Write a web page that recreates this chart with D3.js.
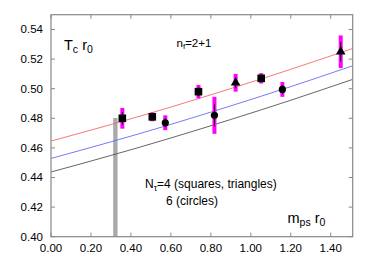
<!DOCTYPE html>
<html>
<head>
<meta charset="utf-8">
<script src="https://cdn.jsdelivr.net/npm/d3@7"></script>
<style>
  body { margin: 0; background: #fff; }
  svg { font-family: "Liberation Sans", Arial, sans-serif; }
</style>
</head>
<body>
<div class="container"></div>
<script>
// data
let squares = [
  {x: 0.357, y: 0.480, e: 0.007},
  {x: 0.507, y: 0.481, e: 0.003},
  {x: 0.738, y: 0.498, e: 0.0045},
  {x: 1.052, y: 0.507, e: 0.0035}
]
let triangles = [
  {x: 0.924, y: 0.504, e: 0.006},
  {x: 1.450, y: 0.525, e: 0.011}
]
let circles = [
  {x: 0.572, y: 0.477, e: 0.005},
  {x: 0.818, y: 0.482, e: 0.0125},
  {x: 1.158, y: 0.4995, e: 0.005}
]
let curveX = [0, 0.3, 0.6, 0.9, 1.2, 1.51]
let redCurve = [0.4646, 0.4758, 0.4876, 0.5001, 0.5131, 0.5272]
let blueCurve = [0.4529, 0.4641, 0.4759, 0.4884, 0.5014, 0.5155]
let blackCurve = [0.4437, 0.4549, 0.4667, 0.4792, 0.4922, 0.5063]
let band = {x0: 0.313, x1: 0.331, y: 0.480}
let xTicks = [0, 0.2, 0.4, 0.6, 0.8, 1.0, 1.2, 1.4]
let yTicks = [0.40, 0.42, 0.44, 0.46, 0.48, 0.50, 0.52, 0.54]

let margin = {left: 51, top: 14.7, right: 21.3, bottom: 25.3}
let W = 374, H = 262
let w = W - margin.left - margin.right
let h = H - margin.top - margin.bottom

let svg = d3.select('.container')
    .append('svg')
    .attr('width', W)
    .attr('height', H)

let g = svg.append('g')
    .attr('transform', `translate(${margin.left},${margin.top})`)

let x = d3.scaleLinear().domain([0, 1.51]).range([0, w])
let y = d3.scaleLinear().domain([0.40, 0.55]).range([h, 0])

// grey band
g.append('rect')
    .attr('x', x(band.x0))
    .attr('y', y(band.y))
    .attr('width', x(band.x1) - x(band.x0))
    .attr('height', y(0.40) - y(band.y))
    .attr('fill', '#aaa')
    .attr('stroke', '#999')
    .attr('stroke-width', 0.5)

// fit curves
let line = d3.line()
    .x((d, i) => x(curveX[i]))
    .y(d => y(d))
    .curve(d3.curveMonotoneX)

let curves = [[blackCurve, '#555'], [blueCurve, '#6a6af5'], [redCurve, '#f46a6a']]
curves.forEach(c => {
  g.append('path')
      .attr('d', line(c[0]))
      .attr('fill', 'none')
      .attr('stroke', c[1])
      .attr('stroke-width', 0.9)
})

// error bars
let all = squares.concat(triangles, circles)
g.selectAll('.err')
    .data(all)
  .enter().append('line')
    .attr('x1', d => x(d.x))
    .attr('x2', d => x(d.x))
    .attr('y1', d => y(d.y - d.e))
    .attr('y2', d => y(d.y + d.e))
    .attr('stroke', '#ff00ff')
    .attr('stroke-width', 4)

// black centre lines in bars
g.selectAll('.errc')
    .data(all)
  .enter().append('line')
    .attr('x1', d => x(d.x))
    .attr('x2', d => x(d.x))
    .attr('y1', d => y(d.y - d.e * 0.6))
    .attr('y2', d => y(d.y + d.e * 0.6))
    .attr('stroke', '#000')
    .attr('stroke-width', 1)

g.selectAll('.sq')
    .data(squares)
  .enter().append('rect')
    .attr('x', d => x(d.x) - 3.8)
    .attr('y', d => y(d.y) - 3.8)
    .attr('width', 7.6)
    .attr('height', 7.6)
    .attr('fill', '#000')

g.selectAll('.ci')
    .data(circles)
  .enter().append('circle')
    .attr('cx', d => x(d.x))
    .attr('cy', d => y(d.y))
    .attr('r', 3.6)
    .attr('fill', '#000')

g.selectAll('.tr')
    .data(triangles)
  .enter().append('path')
    .attr('d', d3.symbol().type(d3.symbolTriangle).size(40))
    .attr('transform', d => `translate(${x(d.x)},${y(d.y)})`)
    .attr('fill', '#000')

// frame and ticks
let axisCol = '#888'
g.append('rect')
    .attr('width', w)
    .attr('height', h)
    .attr('fill', 'none')
    .attr('stroke', axisCol)
    .attr('stroke-width', 1.2)

let tickLen = 4
g.selectAll('.xt')
    .data(xTicks)
  .enter().append('g')
    .each(function(d) {
      let s = d3.select(this)
      s.append('line').attr('x1', x(d)).attr('x2', x(d)).attr('y1', h).attr('y2', h - tickLen).attr('stroke', axisCol)
      s.append('line').attr('x1', x(d)).attr('x2', x(d)).attr('y1', 0).attr('y2', tickLen).attr('stroke', axisCol)
      s.append('text').attr('x', x(d)).attr('y', h + 15.5)
          .attr('text-anchor', 'middle').attr('font-size', 11.5).text(d.toFixed(2))
    })

g.selectAll('.yt')
    .data(yTicks)
  .enter().append('g')
    .each(function(d) {
      let s = d3.select(this)
      s.append('line').attr('x1', 0).attr('x2', tickLen).attr('y1', y(d)).attr('y2', y(d)).attr('stroke', axisCol)
      s.append('line').attr('x1', w).attr('x2', w - tickLen).attr('y1', y(d)).attr('y2', y(d)).attr('stroke', axisCol)
      s.append('text').attr('x', -8).attr('y', y(d) + 4)
          .attr('text-anchor', 'end').attr('font-size', 11.5).text(d.toFixed(2))
    })

// labels
let t1 = svg.append('text').attr('x', 64).attr('y', 49.5).attr('font-size', 14.5)
t1.append('tspan').text('T')
t1.append('tspan').attr('dy', 3).attr('font-size', 10.5).text('c')
t1.append('tspan').attr('dy', -3).text(' r')
t1.append('tspan').attr('dy', 3).attr('font-size', 10.5).text('0')

let t2 = svg.append('text').attr('x', 176.5).attr('y', 46.5).attr('font-size', 11.5)
t2.append('tspan').text('n')
t2.append('tspan').attr('dy', 2.5).attr('font-size', 8).text('f')
t2.append('tspan').attr('dy', -2.5).text('=2+1')

let t3 = svg.append('text').attr('x', 145).attr('y', 188).attr('font-size', 12)
t3.append('tspan').text('N')
t3.append('tspan').attr('dy', 2.5).attr('font-size', 8.5).text('τ')
t3.append('tspan').attr('dy', -2.5).text('=4 (squares, triangles)')

svg.append('text').attr('x', 166).attr('y', 204.5).attr('font-size', 12).text('6 (circles)')

let t4 = svg.append('text').attr('x', 287.5).attr('y', 223).attr('font-size', 14.5)
t4.append('tspan').text('m')
t4.append('tspan').attr('dy', 3).attr('font-size', 10.5).text('ps')
t4.append('tspan').attr('dy', -3).text(' r')
t4.append('tspan').attr('dy', 3).attr('font-size', 10.5).text('0')
</script>
</body>
</html>
